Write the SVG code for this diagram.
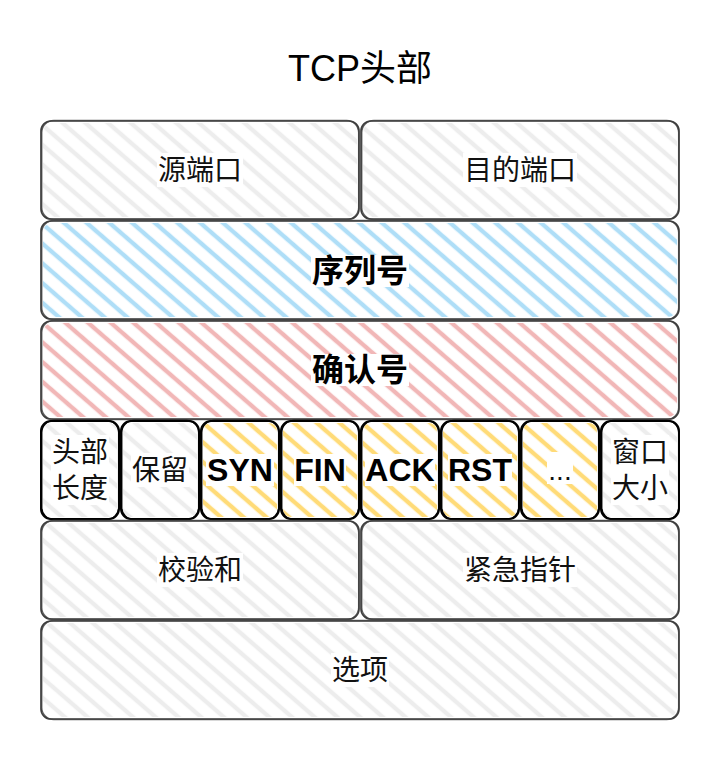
<svg xmlns="http://www.w3.org/2000/svg" width="722" height="762" viewBox="0 0 722 762">
<defs>
<pattern id="pGray" patternUnits="userSpaceOnUse" width="24" height="14.9" patternTransform="rotate(41)"><line x1="-2" y1="7" x2="26" y2="7" stroke="#ededed" stroke-width="4.4"/></pattern>
<pattern id="pBlue" patternUnits="userSpaceOnUse" width="24" height="14.9" patternTransform="rotate(41)"><line x1="-2" y1="7" x2="26" y2="7" stroke="#afdef7" stroke-width="4.4"/></pattern>
<pattern id="pRed" patternUnits="userSpaceOnUse" width="24" height="14.9" patternTransform="rotate(41)"><line x1="-2" y1="7" x2="26" y2="7" stroke="#f1b7b7" stroke-width="4.4"/></pattern>
<pattern id="pYellow" patternUnits="userSpaceOnUse" width="24" height="14.9" patternTransform="rotate(41)"><line x1="-2" y1="7" x2="26" y2="7" stroke="#ffdb78" stroke-width="4.4"/></pattern>
</defs>
<style>
.s1,.s2{fill:none;stroke:#3f3f3f;stroke-width:1.7}
.s2{stroke-opacity:0.8;stroke-width:1.3}
.k1,.k2{fill:none;stroke:#000;stroke-width:2}
.k2{stroke-width:1.3}
.bg{fill:#fff}
text{font-family:"Liberation Sans","Noto Sans CJK SC",sans-serif;fill:#111;text-anchor:middle;dominant-baseline:central}
.t{font-size:28px}
.b{font-size:32px;font-weight:bold;fill:#000}
.title{font-size:36px;fill:#000}
</style>
<rect width="722" height="762" fill="#fff"/>
<text class="title" x="360" y="68">TCP头部</text>
<g id="n-src">
<rect x="43" y="123" width="314" height="94" rx="9" fill="url(#pGray)"/>
<rect class="s1" x="41" y="121" width="318" height="98" rx="10"/>
<rect class="s2" x="41.8" y="120.5" width="316.8" height="99" rx="12"/>
<rect class="bg" x="157" y="153" width="86" height="34"/>
<text class="t" x="200" y="170">源端口</text>
</g>
<g id="n-dst">
<rect x="363" y="123" width="314" height="94" rx="9" fill="url(#pGray)"/>
<rect class="s1" x="361" y="121" width="318" height="98" rx="10"/>
<rect class="s2" x="361.8" y="120.5" width="316.8" height="99" rx="12"/>
<rect class="bg" x="463" y="153" width="114" height="34"/>
<text class="t" x="520" y="170">目的端口</text>
</g>
<g id="n-seq">
<rect x="43" y="223" width="634" height="94" rx="9" fill="url(#pBlue)"/>
<rect class="s1" x="41" y="221" width="638" height="98" rx="10"/>
<rect class="s2" x="41.8" y="220.5" width="636.8" height="99" rx="12"/>
<rect class="bg" x="311" y="255" width="98" height="32"/>
<text class="b" x="360" y="271">序列号</text>
</g>
<g id="n-ack">
<rect x="43" y="323" width="634" height="94" rx="9" fill="url(#pRed)"/>
<rect class="s1" x="41" y="321" width="638" height="98" rx="10"/>
<rect class="s2" x="41.8" y="320.5" width="636.8" height="99" rx="12"/>
<rect class="bg" x="311" y="354" width="98" height="32"/>
<text class="b" x="360" y="370">确认号</text>
</g>
<g id="n-hlen">
<rect x="43" y="423" width="74" height="94" rx="8" fill="url(#pGray)"/>
<rect class="k1" x="41" y="421" width="78" height="98" rx="10"/>
<rect class="k2" x="41.8" y="420.5" width="76.8" height="99" rx="12"/>
<rect class="bg" x="51" y="435" width="58" height="70"/>
<text class="t" x="80" y="452">头部</text>
<text class="t" x="80" y="488">长度</text>
</g>
<g id="n-rsv">
<rect x="123" y="423" width="74" height="94" rx="8" fill="url(#pGray)"/>
<rect class="k1" x="121" y="421" width="78" height="98" rx="10"/>
<rect class="k2" x="121.8" y="420.5" width="76.8" height="99" rx="12"/>
<rect class="bg" x="131" y="453" width="58" height="34"/>
<text class="t" x="160" y="470">保留</text>
</g>
<g id="n-syn">
<rect x="203" y="423" width="74" height="94" rx="8" fill="url(#pYellow)"/>
<rect class="k1" x="201" y="421" width="78" height="98" rx="10"/>
<rect class="k2" x="201.8" y="420.5" width="76.8" height="99" rx="12"/>
<rect class="bg" x="206" y="454" width="68" height="32"/>
<text class="b" x="240" y="470">SYN</text>
</g>
<g id="n-fin">
<rect x="283" y="423" width="74" height="94" rx="8" fill="url(#pYellow)"/>
<rect class="k1" x="281" y="421" width="78" height="98" rx="10"/>
<rect class="k2" x="281.8" y="420.5" width="76.8" height="99" rx="12"/>
<rect class="bg" x="294" y="454" width="52" height="32"/>
<text class="b" x="320" y="470">FIN</text>
</g>
<g id="n-ackf">
<rect x="363" y="423" width="74" height="94" rx="8" fill="url(#pYellow)"/>
<rect class="k1" x="361" y="421" width="78" height="98" rx="10"/>
<rect class="k2" x="361.8" y="420.5" width="76.8" height="99" rx="12"/>
<rect class="bg" x="365" y="454" width="70" height="32"/>
<text class="b" x="400" y="470">ACK</text>
</g>
<g id="n-rst">
<rect x="443" y="423" width="74" height="94" rx="8" fill="url(#pYellow)"/>
<rect class="k1" x="441" y="421" width="78" height="98" rx="10"/>
<rect class="k2" x="441.8" y="420.5" width="76.8" height="99" rx="12"/>
<rect class="bg" x="448" y="454" width="64" height="32"/>
<text class="b" x="480" y="470">RST</text>
</g>
<g id="n-more">
<rect x="523" y="423" width="74" height="94" rx="8" fill="url(#pYellow)"/>
<rect class="k1" x="521" y="421" width="78" height="98" rx="10"/>
<rect class="k2" x="521.8" y="420.5" width="76.8" height="99" rx="12"/>
<rect class="bg" x="547" y="452" width="26" height="32"/>
<text class="t" x="560" y="470">...</text>
</g>
<g id="n-win">
<rect x="603" y="423" width="74" height="94" rx="8" fill="url(#pGray)"/>
<rect class="k1" x="601" y="421" width="78" height="98" rx="10"/>
<rect class="k2" x="601.8" y="420.5" width="76.8" height="99" rx="12"/>
<rect class="bg" x="611" y="435" width="58" height="70"/>
<text class="t" x="640" y="452">窗口</text>
<text class="t" x="640" y="488">大小</text>
</g>
<g id="n-cks">
<rect x="43" y="523" width="314" height="94" rx="9" fill="url(#pGray)"/>
<rect class="s1" x="41" y="521" width="318" height="98" rx="10"/>
<rect class="s2" x="41.8" y="520.5" width="316.8" height="99" rx="12"/>
<rect class="bg" x="157" y="553" width="86" height="34"/>
<text class="t" x="200" y="570">校验和</text>
</g>
<g id="n-urg">
<rect x="363" y="523" width="314" height="94" rx="9" fill="url(#pGray)"/>
<rect class="s1" x="361" y="521" width="318" height="98" rx="10"/>
<rect class="s2" x="361.8" y="520.5" width="316.8" height="99" rx="12"/>
<rect class="bg" x="463" y="553" width="114" height="34"/>
<text class="t" x="520" y="570">紧急指针</text>
</g>
<g id="n-opt">
<rect x="43" y="623" width="634" height="94" rx="9" fill="url(#pGray)"/>
<rect class="s1" x="41" y="621" width="638" height="98" rx="10"/>
<rect class="s2" x="41.8" y="620.5" width="636.8" height="99" rx="12"/>
<rect class="bg" x="331" y="653" width="58" height="34"/>
<text class="t" x="360" y="670">选项</text>
</g>
<g id="connectors"/>
</svg>
